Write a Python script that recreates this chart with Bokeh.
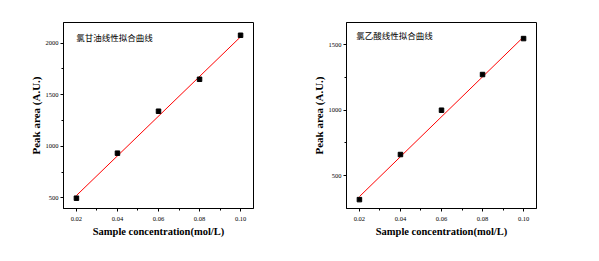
from bokeh.plotting import figure
from bokeh.layouts import row
from bokeh.models import FixedTicker, Label, Range1d
from bokeh.embed import file_html
from bokeh.resources import INLINE

# data
conc = [0.02, 0.04, 0.06, 0.08, 0.10]
area_left = [496, 933, 1340, 1650, 2077]
area_right = [316, 661, 1000, 1273, 1548]
fit_x = [0.02, 0.10]
fit_left = [522, 2062]
fit_right = [339, 1561]
x_ticks = [0.02, 0.04, 0.06, 0.08, 0.10]
x_minor = [0.03, 0.05, 0.07, 0.09]
left_yticks = [500, 1000, 1500, 2000]
left_yminor = [750, 1250, 1750]
right_yticks = [500, 1000, 1500]
right_yminor = [750, 1250]
title_left = "氯甘油线性拟合曲线"
title_right = "氯乙酸线性拟合曲线"
xlabel = "Sample concentration(mol/L)"
ylabel = "Peak area (A.U.)"


def make(width, bl, br, yr, yticks, yminor, ys, fit, title, tx, ty):
    p = figure(width=width, height=261, output_backend="svg", toolbar_location=None,
               x_range=Range1d(0.0137, 0.1063), y_range=Range1d(*yr),
               min_border_left=bl, min_border_right=br, min_border_top=22, min_border_bottom=53)
    p.xgrid.visible = False
    p.ygrid.visible = False
    p.outline_line_color = "black"
    p.outline_line_width = 1
    p.background_fill_color = "white"
    p.border_fill_color = "white"
    p.xaxis.ticker = FixedTicker(ticks=x_ticks, minor_ticks=x_minor)
    p.xaxis.major_label_overrides = {t: f"{t:.2f}" for t in x_ticks}
    p.yaxis.ticker = FixedTicker(ticks=yticks, minor_ticks=yminor)
    for ax in (p.xaxis[0], p.yaxis[0]):
        ax.major_tick_out = 3
        ax.major_tick_in = 0
        ax.minor_tick_out = 2
        ax.minor_tick_in = 0
        ax.major_label_text_font = "Liberation Serif"
        ax.major_label_text_font_size = "6.5px"
        ax.major_label_text_color = "black"
        ax.axis_label_text_font = "Liberation Serif"
        ax.axis_label_text_font_style = "bold"
        ax.axis_label_text_color = "black"
        ax.axis_line_color = "black"
    p.xaxis.major_label_standoff = 5
    p.xaxis.axis_label_standoff = 2
    p.yaxis.major_label_standoff = 2
    p.yaxis.axis_label_standoff = 1
    p.xaxis.axis_label = xlabel
    p.xaxis.axis_label_text_font_size = "10.5px"
    p.yaxis.axis_label = ylabel
    p.yaxis.axis_label_text_font_size = "11px"
    p.line(fit_x, fit, line_color="red", line_width=1)
    p.scatter(conc, ys, marker="square", size=4.5, fill_color="black", line_color="black")
    p.add_layout(Label(x=tx, y=ty, text=title, text_font="Noto Sans CJK SC",
                       text_font_size="8.5px", text_baseline="middle", text_color="black"))
    return p


p1 = make(300, 63, 47, (396, 2201), left_yticks, left_yminor, area_left, fit_left,
          title_left, 0.0199, 2065)
p2 = make(299, 46, 63, (248, 1671), right_yticks, right_yminor, area_right, fit_right,
          title_right, 0.0184, 1579)

p = row(p1, p2)
open("out.html", "w").write(file_html(p, INLINE))
